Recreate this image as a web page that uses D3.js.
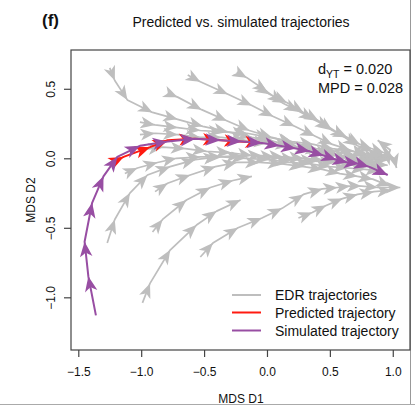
<!DOCTYPE html>
<html><head><meta charset="utf-8">
<script src="https://cdn.jsdelivr.net/npm/d3@7"></script>
<style>
body{margin:0;background:#fff}
svg{display:block}
text{font-family:"Liberation Sans",Arial,Helvetica,sans-serif;fill:#111}
</style>
</head><body>
<svg id="c" width="415" height="405"></svg>
<script>
// ---------- data ----------
const xTicks = [-1.5, -1.0, -0.5, 0.0, 0.5, 1.0];
const yTicks = [-1.0, -0.5, 0.0, 0.5];

// simulated trajectory (purple)
const simX = [-1.36,-1.42,-1.45,-1.39,-1.30,-1.19,-1.01,-0.79,-0.57,-0.37,-0.20,-0.04,0.10,0.23,0.34,0.45,0.55,0.64,0.73,0.81,0.96];
const simY = [-1.13,-0.85,-0.60,-0.32,-0.13,0.01,0.09,0.12,0.14,0.13,0.12,0.11,0.09,0.07,0.05,0.02,-0.01,-0.03,-0.04,-0.06,-0.12];

// predicted trajectory (red)
const predX = [-1.23,-1.14,-0.93,-0.79,-0.58,-0.39,-0.22,-0.055];
const predY = [-0.03,0.01,0.08,0.13,0.14,0.132,0.121,0.111];

// EDR trajectories (grey)
const edrX = [
  [-1.25,-1.21,-1.11,-0.91,-0.71,-0.51,-0.31,-0.12,0.06,0.25,0.42,0.58,0.72,0.83,0.94],
  [-0.63,-0.53,-0.31,-0.12,0.05,0.22,0.38,0.52,0.66,0.78,0.88,0.98],
  [-0.24,-0.16,0.00,0.12,0.25,0.37,0.50,0.62,0.72,0.84,0.95,0.98,0.88],
  [-0.79,-0.71,-0.52,-0.32,-0.14,0.04,0.21,0.39,0.55,0.70,0.83],
  [-0.07,0.02,0.16,0.29,0.41,0.52,0.64,0.74,0.83,0.93,1.01,1.03],
  [-1.01,-0.89,-0.71,-0.53,-0.35,-0.16,0.02,0.20,0.37,0.52,0.68,0.80,0.91],
  [-1.01,-0.89,-0.71,-0.53,-0.36,-0.17,0.01,0.18,0.34,0.50,0.64,0.77,0.88],
  [-1.01,-0.83,-0.65,-0.48,-0.29,-0.12,0.06,0.22,0.38,0.53,0.68,0.80,0.91],
  [-1.13,-1.03,-0.87,-0.72,-0.53,-0.36,-0.17,0.01,0.18,0.34,0.50,0.64,0.78,0.90],
  [-1.27,-1.21,-1.09,-0.95,-0.77,-0.57,-0.39,-0.21,-0.04,0.13,0.29,0.44,0.58,0.72,0.84,0.96],
  [-0.89,-0.79,-0.61,-0.41,-0.24,-0.06,0.12,0.29,0.44,0.58,0.72,0.84,0.98],
  [-0.99,-0.93,-0.77,-0.56,-0.40,-0.21],
  [-0.91,-0.83,-0.64,-0.45,-0.27,-0.12],
  [-0.53,-0.43,-0.23,-0.04,0.12,0.29,0.44,0.56,0.66,0.75,0.88,1.06],
  [0.25,0.36,0.47,0.60,0.72,0.85,0.99]
];
const edrY = [
  [0.65,0.56,0.42,0.33,0.28,0.23,0.19,0.15,0.12,0.08,0.05,0.02,0.00,-0.01,-0.01],
  [0.60,0.55,0.46,0.38,0.30,0.23,0.16,0.10,0.06,0.02,0.00,-0.01],
  [0.62,0.58,0.48,0.40,0.34,0.28,0.22,0.15,0.09,0.05,0.00,0.06,0.13],
  [0.47,0.44,0.35,0.27,0.20,0.15,0.11,0.07,0.05,0.02,0.01],
  [0.51,0.46,0.40,0.33,0.27,0.20,0.15,0.10,0.07,0.04,0.00,-0.07],
  [0.26,0.24,0.22,0.20,0.19,0.18,0.15,0.12,0.10,0.07,0.05,0.03,0.02],
  [0.17,0.18,0.17,0.15,0.15,0.13,0.11,0.09,0.06,0.03,0.00,-0.02,-0.03],
  [0.06,0.08,0.07,0.05,0.04,0.02,0.01,-0.01,-0.02,-0.03,-0.05,-0.06,-0.06],
  [-0.11,-0.07,-0.03,0.00,0.01,0.01,0.00,-0.01,-0.03,-0.04,-0.06,-0.07,-0.08,-0.09],
  [-0.61,-0.44,-0.25,-0.12,-0.06,-0.01,0.01,0.02,0.02,0.01,0.00,-0.01,-0.02,-0.03,-0.04,-0.05],
  [-0.24,-0.18,-0.12,-0.06,-0.03,-0.03,-0.04,-0.06,-0.08,-0.11,-0.13,-0.15,-0.20],
  [-1.04,-0.90,-0.66,-0.48,-0.38,-0.30],
  [-0.53,-0.44,-0.30,-0.21,-0.16,-0.13],
  [-0.71,-0.61,-0.50,-0.43,-0.36,-0.26,-0.22,-0.21,-0.20,-0.20,-0.21,-0.21],
  [-0.43,-0.39,-0.34,-0.29,-0.26,-0.24,-0.23]
];

const legendLabels = ["EDR trajectories", "Predicted trajectory", "Simulated trajectory"];
const statValues = ["0.020", "0.028"];

// ---------- drawing ----------
const grey = "#bebebe", red = "#ff1a10", purple = "#984ea3";
const svg = d3.select("#c");
const x = d3.scaleLinear().domain([-1.558, 1.137]).range([71, 410]);
const y = d3.scaleLinear().domain([-1.379, 0.779]).range([350, 50]);

// panel border
svg.append("line").attr("x1",410.5).attr("x2",410.5).attr("y1",0).attr("y2",404)
   .attr("stroke","#999").attr("stroke-width",1);
svg.append("line").attr("x1",0).attr("x2",415).attr("y1",404.5).attr("y2",404.5)
   .attr("stroke","#aaa").attr("stroke-width",1);

// filled arrowhead with notched back, tip at origin, pointing +x
const arrowPath = (L, Wd) =>
  `M0,0Q${-L*0.5},${-Wd*0.26} ${-L},${-Wd/2}Q${-L*0.8},${-Wd*0.12} ${-L*0.72},0` +
  `Q${-L*0.8},${Wd*0.12} ${-L},${Wd/2}Q${-L*0.5},${Wd*0.26} 0,0Z`;

function drawTraj(g, xs, ys, color, lw, L, Wd) {
  const p = xs.map((v, i) => [x(v), y(ys[i])]);
  g.append("path").attr("d", d3.line()(p)).attr("fill", "none")
    .attr("stroke", color).attr("stroke-width", lw).attr("stroke-linejoin", "round");
  for (let i = 1; i < p.length; i++) {
    const a = Math.atan2(p[i][1] - p[i-1][1], p[i][0] - p[i-1][0]) * 180 / Math.PI;
    g.append("path").attr("d", arrowPath(L, Wd))
      .attr("transform", `translate(${p[i][0]},${p[i][1]}) rotate(${a})`)
      .attr("fill", color);
  }
}

const gp = svg.append("g");
edrX.forEach((xs, k) => drawTraj(gp, xs, edrY[k], grey, 1.7, 14.5, 12));
drawTraj(gp, predX, predY, red, 2, 15, 12.5);
drawTraj(gp, simX, simY, purple, 2, 15, 12.5);

// box
svg.append("rect").attr("x",71).attr("y",50).attr("width",339).attr("height",300)
  .attr("fill","none").attr("stroke","#444").attr("stroke-width",1.2);

// axes
const fmt = d3.format(".1f");
const gx = svg.append("g").attr("transform","translate(0,350)")
  .call(d3.axisBottom(x).tickValues(xTicks).tickFormat(fmt).tickSize(7).tickSizeOuter(0));
gx.select(".domain").remove();
gx.selectAll(".tick line").attr("stroke","#444").attr("stroke-width",1.2);
gx.selectAll(".tick text").attr("y",26).attr("dy",0)
  .attr("font-size",12).attr("font-family","Liberation Sans, Arial, sans-serif").attr("fill","#111");

const gy = svg.append("g").attr("transform","translate(71,0)")
  .call(d3.axisLeft(y).tickValues(yTicks).tickFormat(fmt).tickSize(7).tickSizeOuter(0));
gy.select(".domain").remove();
gy.selectAll(".tick line").attr("stroke","#444").attr("stroke-width",1.2);
gy.selectAll(".tick text").attr("x",0).attr("y",-16).attr("dy",0)
  .attr("text-anchor","middle").attr("transform","rotate(-90)")
  .attr("font-size",12).attr("font-family","Liberation Sans, Arial, sans-serif").attr("fill","#111");

// axis titles
svg.append("text").attr("x",241).attr("y",402.5).attr("text-anchor","middle")
  .attr("font-size",12).text("MDS D1");
svg.append("text").attr("transform","translate(35,200) rotate(-90)").attr("text-anchor","middle")
  .attr("font-size",12).text("MDS D2");

// title
svg.append("text").attr("x",241).attr("y",27).attr("text-anchor","middle")
  .attr("font-size",14).text("Predicted vs. simulated trajectories");
svg.append("text").attr("x",42).attr("y",26).attr("font-size",17).attr("font-weight","bold").text("(f)");

// stats
const t1 = svg.append("text").attr("x",318).attr("y",73.5).attr("font-size",14.5);
t1.append("tspan").text("d");
t1.append("tspan").attr("dy",4).attr("font-size",10.5).text("YT");
t1.append("tspan").attr("dy",-4).text(" = " + statValues[0]);
svg.append("text").attr("x",318).attr("y",92.5).attr("font-size",14.5).text("MPD = " + statValues[1]);

// legend
const legColors = [grey, red, purple];
const legY = [295, 312.5, 330.5];
legendLabels.forEach((lab, i) => {
  svg.append("line").attr("x1",232).attr("x2",261).attr("y1",legY[i]).attr("y2",legY[i])
    .attr("stroke",legColors[i]).attr("stroke-width",2);
  svg.append("text").attr("x",275).attr("y",legY[i]+5).attr("font-size",14).text(lab);
});
</script>
</body></html>
